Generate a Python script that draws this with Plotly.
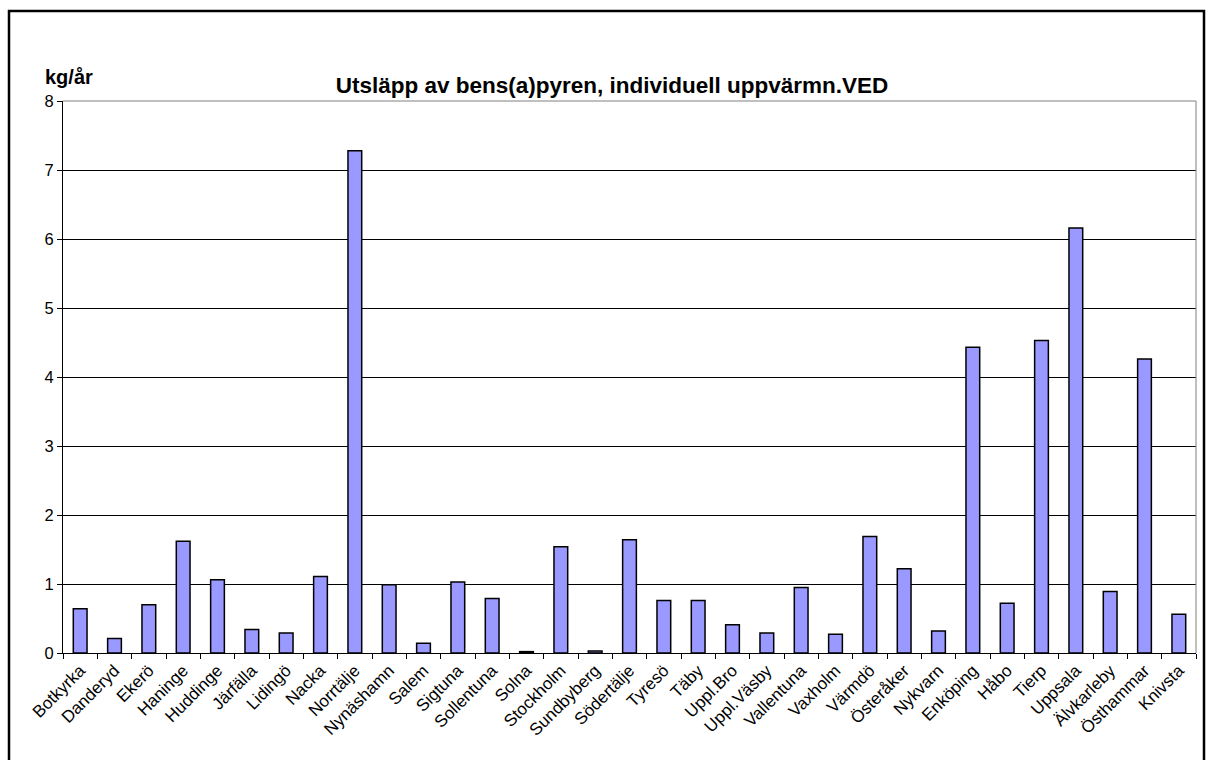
import plotly.graph_objects as go

# Kommuner (kategorier) och utsläpp av bens(a)pyren, kg/år
kommuner = [
    "Botkyrka", "Danderyd", "Ekerö", "Haninge", "Huddinge", "Järfälla",
    "Lidingö", "Nacka", "Norrtälje", "Nynäshamn", "Salem", "Sigtuna",
    "Sollentuna", "Solna", "Stockholm", "Sundbyberg", "Södertälje", "Tyresö",
    "Täby", "Uppl.Bro", "Uppl.Väsby", "Vallentuna", "Vaxholm", "Värmdö",
    "Österåker", "Nykvarn", "Enköping", "Håbo", "Tierp", "Uppsala",
    "Älvkarleby", "Östhammar", "Knivsta",
]
utslapp = [
    0.64, 0.21, 0.70, 1.62, 1.06, 0.34,
    0.29, 1.11, 7.28, 0.99, 0.14, 1.03,
    0.79, 0.02, 1.54, 0.03, 1.64, 0.76,
    0.76, 0.41, 0.29, 0.95, 0.27, 1.69,
    1.22, 0.32, 4.43, 0.72, 4.53, 6.16,
    0.89, 4.26, 0.56,
]
y_ticks = [0, 1, 2, 3, 4, 5, 6, 7, 8]

W, H = 1208, 760
L, R, T, B = 63, 12, 101, 107
pw, ph = W - L - R, H - T - B


def px_x(x):
    return (x - L) / pw


def px_y(y):
    return (H - B - y) / ph


FONT = "Liberation Sans, Arial, sans-serif"

fig = go.Figure(
    go.Bar(
        x=kommuner,
        y=utslapp,
        marker=dict(color="#9999FF", line=dict(color="#000000", width=1.5)),
        hoverinfo="x+y",
    )
)

fig.update_layout(
    width=W,
    height=H,
    margin=dict(l=L, r=R, t=T, b=B, autoexpand=False),
    paper_bgcolor="white",
    plot_bgcolor="white",
    bargap=0.6,
    showlegend=False,
    font=dict(family=FONT, color="#000000", size=16),
    title=dict(
        text="<b>Utsläpp av bens(a)pyren, individuell uppvärmn.VED</b>",
        x=612 / W,
        xref="container",
        xanchor="center",
        y=1 - 85 / H,
        yref="container",
        yanchor="middle",
        font=dict(family=FONT, size=22.5, color="#000000"),
    ),
    xaxis=dict(
        type="category",
        tickangle=-45,
        ticks="outside",
        tickson="boundaries",
        ticklen=5,
        tickcolor="#000000",
        showline=True,
        linecolor="#000000",
        linewidth=1,
        showgrid=False,
        tickfont=dict(family=FONT, size=17, color="#000000"),
    ),
    yaxis=dict(
        range=[0, 8],
        tickvals=y_ticks,
        ticktext=[str(v) for v in y_ticks],
        ticks="outside",
        ticklen=5,
        tickcolor="#000000",
        showline=True,
        linecolor="#000000",
        linewidth=1,
        showgrid=True,
        gridcolor="#000000",
        gridwidth=1,
        zeroline=False,
        tickfont=dict(family=FONT, size=16.5, color="#000000"),
    ),
    annotations=[
        dict(
            text="<b>kg/år</b>",
            xref="paper",
            yref="paper",
            x=px_x(43),
            y=px_y(77),
            xanchor="left",
            yanchor="middle",
            showarrow=False,
            font=dict(family=FONT, size=20, color="#000000"),
        )
    ],
    shapes=[
        # plot-area frame, top and right edges
        dict(type="line", xref="paper", yref="paper", x0=0, x1=1, y0=1, y1=1,
             line=dict(color="#808080", width=1)),
        dict(type="line", xref="paper", yref="paper", x0=1, x1=1, y0=0, y1=1,
             line=dict(color="#808080", width=1)),
        # outer chart border
        dict(type="rect", xref="paper", yref="paper",
             x0=px_x(9), x1=px_x(1204), y0=px_y(766), y1=px_y(11),
             line=dict(color="#000000", width=2.5), fillcolor="rgba(0,0,0,0)"),
    ],
)

fig.write_html("out.html")
